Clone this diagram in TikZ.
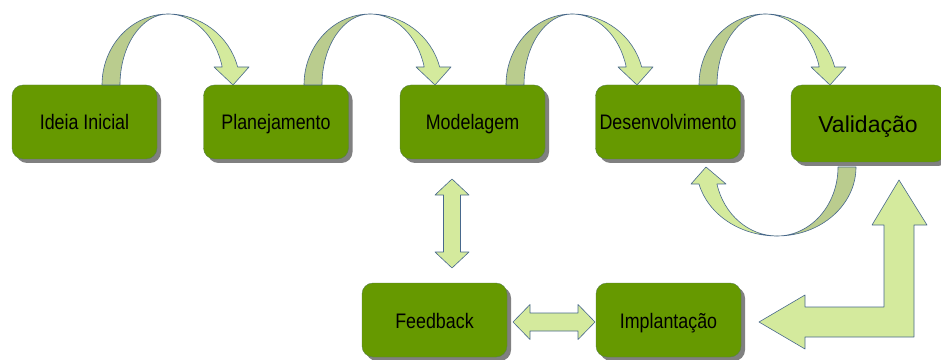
\documentclass[tikz,border=0pt]{standalone}
\usepackage{fontspec}
\setmainfont{Liberation Sans}
\newfontfamily\narrowsans[FakeStretch=0.85]{Liberation Sans}
\usepackage{tikz}
\usetikzlibrary{shadows}
\definecolor{boxgreen}{RGB}{102,153,0}
\definecolor{arrowlight}{RGB}{212,234,157}
\definecolor{arrowdark}{RGB}{186,204,142}
\definecolor{arrowline}{RGB}{72,104,140}
\definecolor{shadowgray}{RGB}{128,128,128}

\begin{document}
\begin{tikzpicture}[x=1pt,y=1pt,line join=round,
  stage/.style={draw=arrowline!50!boxgreen,line width=0.4pt,fill=boxgreen,rounded corners=11pt,
    minimum width=145pt,minimum height=74pt,inner sep=0pt,text height=16pt,text depth=0pt,
    font=\narrowsans\fontsize{21}{25}\selectfont,
    drop shadow={shadow xshift=4pt,shadow yshift=-4pt,fill=shadowgray,opacity=1}},
  band/.style={draw=arrowline,line width=0.6pt}]
  \useasboundingbox (0,0) rectangle (941,359);
  \clip (0,0) rectangle (941,359);
  % process stages
  \node[stage] (ideia) at (84.5,237) {Ideia Inicial};
  \node[stage] (plano) at (276,237) {Planejamento};
  \node[stage] (modelo) at (472.5,237) {Modelagem};
  \node[stage] (desenv) at (668,237) {Desenvolvimento};
  \node[stage,minimum width=154pt,minimum height=77pt,text height=19pt,font=\fontsize{23}{27}\selectfont] (valid) at (868,235.5) {Validação};
  \node[stage] (feedback) at (434.5,39) {Feedback};
  \node[stage] (implant) at (668.5,39) {Implantação};
  % curved arrows between the stages
  \foreach \cx in {168,370,572,765}{
    \filldraw[band,fill=arrowdark] (\cx-66,274) arc[start angle=180,end angle=90,x radius=66,y radius=71]
      arc[start angle=90,end angle=180,x radius=48,y radius=71] -- cycle;
    \filldraw[band,fill=arrowlight] (\cx,345) arc[start angle=90,end angle=14.7,x radius=72,y radius=71]
      -- (\cx+81,292) -- (\cx+65,274) -- (\cx+46,292) -- (\cx+54.2,292)
      arc[start angle=14.7,end angle=90,x radius=56,y radius=71] -- cycle;
  }
  % back from validation to development
  \filldraw[band,fill=arrowdark] (856,192) arc[start angle=0,end angle=-90,x radius=79,y radius=69]
    arc[start angle=-90,end angle=0,x radius=61,y radius=69] -- cycle;
  \filldraw[band,fill=arrowlight] (777,123) arc[start angle=-90,end angle=-165.7,x radius=80.5,y radius=69]
    -- (691,175) -- (706,192) -- (726,175) -- (716.9,175)
    arc[start angle=-165.7,end angle=-90,x radius=62,y radius=69] -- cycle;
  % double arrows
  \filldraw[band,fill=arrowlight] (452,180) -- (469,164) -- (460.5,164) -- (460.5,107) -- (469,107) -- (452,91)
    -- (435,107) -- (443.5,107) -- (443.5,164) -- (435,164) -- cycle;
  \filldraw[band,fill=arrowlight] (513,37) -- (530,54.5) -- (530,46) -- (578,46) -- (578,54.5) -- (595,37)
    -- (578,19.5) -- (578,28) -- (530,28) -- (530,19.5) -- cycle;
  % bent arrow
  \filldraw[band,fill=arrowlight] (759,37) -- (805,64) -- (805,52) -- (884,52) -- (884,134) -- (872,134) -- (899,179)
    -- (927,134) -- (914,134) -- (914,22) -- (805,22) -- (805,10) -- cycle;
\end{tikzpicture}
\end{document}
